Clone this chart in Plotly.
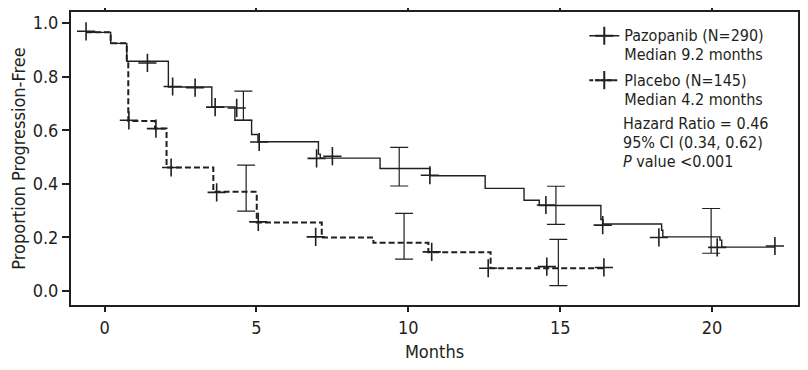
import plotly.graph_objects as go

# ---- Data ----
# Kaplan-Meier step curves: time (months) of each step and proportion after it
paz_t = [-0.61, 0.20, 0.73, 2.10, 3.53, 4.29, 4.84, 5.05, 7.04, 7.10, 9.07, 10.71,
         12.53, 13.81, 14.31, 16.34, 16.41, 18.34, 18.38, 20.26, 20.32, 22.07]
paz_s = [0.965, 0.924, 0.857, 0.761, 0.687, 0.637, 0.584, 0.557, 0.511, 0.496, 0.457, 0.430,
         0.383, 0.339, 0.319, 0.267, 0.250, 0.227, 0.202, 0.190, 0.164, 0.164]

plac_t = [-0.61, 0.20, 0.73, 0.78, 1.66, 2.04, 3.58, 5.01, 7.15, 8.85, 10.66, 12.71, 16.44]
plac_s = [0.965, 0.924, 0.857, 0.634, 0.606, 0.461, 0.370, 0.256, 0.200, 0.180, 0.145, 0.085, 0.085]

# Censoring marks
paz_cens_t = [-0.61, 1.41, 2.24, 2.98, 3.64, 4.35, 5.09, 6.98, 7.50, 10.71, 14.53, 16.40, 18.25, 20.17, 22.07]
paz_cens_s = [0.969, 0.851, 0.763, 0.759, 0.686, 0.683, 0.556, 0.495, 0.503, 0.432, 0.321, 0.246, 0.200, 0.163, 0.168]

plac_cens_t = [0.80, 1.69, 2.19, 3.69, 5.06, 6.95, 10.77, 12.63, 14.56, 16.44]
plac_cens_s = [0.637, 0.606, 0.461, 0.368, 0.258, 0.202, 0.146, 0.085, 0.091, 0.088]

# 95% confidence intervals
paz_ci_t = [4.57, 9.70, 14.86, 19.97]
paz_ci_mid = [0.687, 0.457, 0.319, 0.202]
paz_ci_lo = [0.637, 0.392, 0.249, 0.141]
paz_ci_hi = [0.746, 0.536, 0.391, 0.308]

plac_ci_t = [4.66, 9.86, 14.94]
plac_ci_mid = [0.370, 0.180, 0.085]
plac_ci_lo = [0.298, 0.119, 0.020]
plac_ci_hi = [0.470, 0.290, 0.193]

paz_label = ["Pazopanib (N=290)", "Median 9.2 months"]
plac_label = ["Placebo (N=145)", "Median 4.2 months"]
stats_lines = ["Hazard Ratio = 0.46", "95% CI (0.34, 0.62)", "<i>P</i> value &lt;0.001"]

x_ticks = [0, 5, 10, 15, 20]
y_ticks = [0.0, 0.2, 0.4, 0.6, 0.8, 1.0]

INK = "#231f20"
FONT = "DejaVu Sans Condensed, Liberation Sans Narrow, sans-serif"


def big(lines, px=16):
    # larger glyphs with tight leading, like the printed figure
    return "<br>".join(f'<span style="font-size:{px}px">{t}</span>' for t in lines)


fig = go.Figure()

# Placebo curve (dashed)
fig.add_trace(go.Scatter(x=plac_t, y=plac_s, mode="lines", line_shape="hv",
                         line=dict(color=INK, width=2, dash="6px,3px"), showlegend=False, hoverinfo="skip"))
fig.add_trace(go.Scatter(x=plac_cens_t, y=plac_cens_s, mode="markers",
                         marker=dict(symbol="cross-thin", size=13, line=dict(color=INK, width=1.6)),
                         showlegend=False))
fig.add_trace(go.Scatter(x=plac_ci_t, y=plac_ci_mid, mode="markers", marker=dict(size=0.1, color=INK),
                         error_y=dict(type="data", symmetric=False,
                                      array=[h - m for h, m in zip(plac_ci_hi, plac_ci_mid)],
                                      arrayminus=[m - l for m, l in zip(plac_ci_mid, plac_ci_lo)],
                                      color=INK, thickness=1.2, width=9),
                         showlegend=False))

# Pazopanib curve (solid)
fig.add_trace(go.Scatter(x=paz_t, y=paz_s, mode="lines", line_shape="hv",
                         line=dict(color=INK, width=1.4), showlegend=False, hoverinfo="skip"))
fig.add_trace(go.Scatter(x=paz_cens_t, y=paz_cens_s, mode="markers",
                         marker=dict(symbol="cross-thin", size=13, line=dict(color=INK, width=1.6)),
                         showlegend=False))
fig.add_trace(go.Scatter(x=paz_ci_t, y=paz_ci_mid, mode="markers", marker=dict(size=0.1, color=INK),
                         error_y=dict(type="data", symmetric=False,
                                      array=[h - m for h, m in zip(paz_ci_hi, paz_ci_mid)],
                                      arrayminus=[m - l for m, l in zip(paz_ci_mid, paz_ci_lo)],
                                      color=INK, thickness=1.2, width=9),
                         showlegend=False))

# Legend entries
fig.add_trace(go.Scatter(x=[None], y=[None], mode="lines+markers", name=big(paz_label), legendgroup="a",
                         line=dict(color=INK, width=1.4),
                         marker=dict(symbol="cross-thin", size=13, line=dict(color=INK, width=2))))
fig.add_trace(go.Scatter(x=[None], y=[None], mode="lines+markers", name=big(plac_label), legendgroup="b",
                         line=dict(color=INK, width=2, dash="4px,2px"),
                         marker=dict(symbol="cross-thin", size=13, line=dict(color=INK, width=2))))

fig.add_annotation(x=0.757, y=0.66, xref="paper", yref="paper", xanchor="left", yanchor="top",
                   text=big(stats_lines), showarrow=False, align="left",
                   font=dict(family=FONT, size=14.5, color=INK))

axis_common = dict(showline=True, linewidth=2, linecolor=INK, mirror="ticks", ticks="outside",
                   tickcolor=INK, tickwidth=1.5, showgrid=False, zeroline=False, automargin=False,
                   tickfont=dict(family=FONT, size=18, color=INK))

# The page body adds an 8px offset, so the figure is sized to fit the 808x370 window.
fig.update_layout(
    width=800, height=362,
    margin=dict(l=63, r=10, t=4, b=65),
    paper_bgcolor="white", plot_bgcolor="white",
    font=dict(family=FONT, color=INK),
    showlegend=True,
    legend=dict(x=0.706, y=0.973, xanchor="left", yanchor="top", bgcolor="rgba(0,0,0,0)",
                valign="top", font=dict(family=FONT, size=14.4, color=INK), tracegroupgap=4),
    xaxis=dict(range=[-1.106, 22.83], tickvals=x_ticks, ticklen=5,
               title=dict(text="Months", font=dict(family=FONT, size=18, color=INK), standoff=9),
               **axis_common),
    yaxis=dict(range=[-0.052, 1.041], tickvals=y_ticks, tickformat=".1f", ticklen=7,
               title=dict(text="Proportion Progression-Free", font=dict(family=FONT, size=18, color=INK),
                          standoff=14),
               **axis_common),
)

fig.write_html("out.html")
